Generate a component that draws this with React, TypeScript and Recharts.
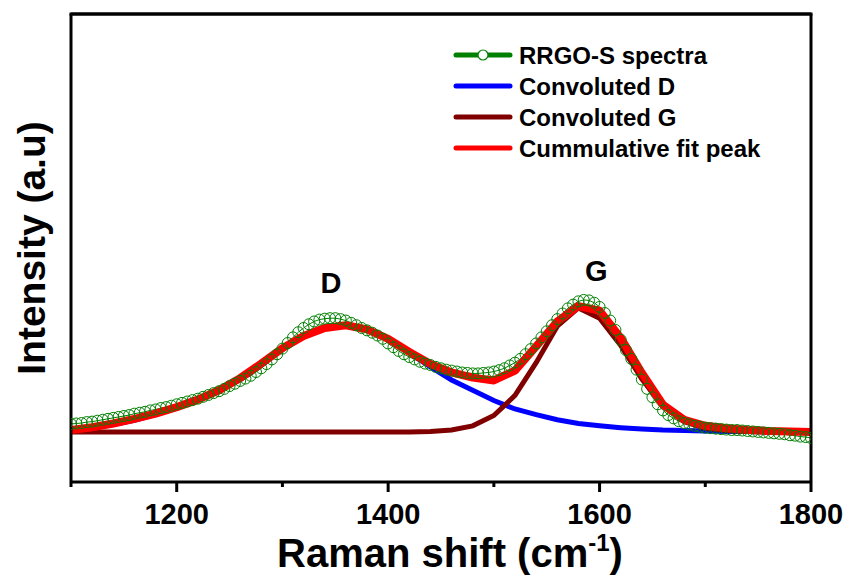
import { LineChart, Line, XAxis, YAxis, ReferenceLine, ReferenceDot } from "recharts";

// measured spectrum, every 5 cm-1
const spectraShift = [
  1100, 1105, 1110, 1115, 1120, 1125, 1130, 1135, 1140, 1145, 1150, 1155, 1160, 1165, 1170, 1175, 1180, 1185, 1190, 1195,
  1200, 1205, 1210, 1215, 1220, 1225, 1230, 1235, 1240, 1245, 1250, 1255, 1260, 1265, 1270, 1275, 1280, 1285, 1290, 1295,
  1300, 1305, 1310, 1315, 1320, 1325, 1330, 1335, 1340, 1345, 1350, 1355, 1360, 1365, 1370, 1375, 1380, 1385, 1390, 1395,
  1400, 1405, 1410, 1415, 1420, 1425, 1430, 1435, 1440, 1445, 1450, 1455, 1460, 1465, 1470, 1475, 1480, 1485, 1490, 1495,
  1500, 1505, 1510, 1515, 1520, 1525, 1530, 1535, 1540, 1545, 1550, 1555, 1560, 1565, 1570, 1575, 1580, 1585, 1590, 1595,
  1600, 1605, 1610, 1615, 1620, 1625, 1630, 1635, 1640, 1645, 1650, 1655, 1660, 1665, 1670, 1675, 1680, 1685, 1690, 1695,
  1700, 1705, 1710, 1715, 1720, 1725, 1730, 1735, 1740, 1745, 1750, 1755, 1760, 1765, 1770, 1775, 1780, 1785, 1790, 1795,
  1800,
];
const spectraIntensity = [
  12.4, 12.5, 12.6, 12.8, 12.9, 13.1, 13.3, 13.5, 13.7, 13.9, 14.1, 14.3, 14.6, 14.8, 15.0, 15.3, 15.5, 15.8, 16.0, 16.3,
  16.6, 16.9, 17.2, 17.5, 17.8, 18.2, 18.6, 19.0, 19.4, 19.9, 20.5, 21.0, 21.6, 22.1, 22.7, 23.5, 24.3, 25.2, 26.2, 27.3,
  28.5, 29.7, 30.9, 32.0, 32.9, 33.7, 34.3, 34.7, 34.9, 35.0, 35.0, 34.8, 34.5, 34.0, 33.5, 32.9, 32.4, 31.9, 31.3, 30.6,
  29.6, 28.8, 28.0, 27.3, 26.7, 26.2, 25.7, 25.3, 25.0, 24.6, 24.3, 24.0, 23.8, 23.6, 23.4, 23.3, 23.2, 23.2, 23.3, 23.4,
  23.6, 23.9, 24.3, 24.9, 25.5, 26.3, 27.3, 28.4, 29.6, 30.9, 32.2, 33.5, 34.8, 36.0, 37.1, 37.9, 38.6, 38.9, 38.8, 38.3,
  37.4, 36.1, 34.5, 32.5, 30.4, 28.2, 26.3, 24.0, 21.9, 19.9, 18.1, 16.6, 15.3, 14.3, 13.6, 13.0, 12.6, 12.3, 12.0, 11.8,
  11.6, 11.5, 11.4, 11.3, 11.2, 11.1, 11.1, 11.0, 10.9, 10.8, 10.7, 10.6, 10.5, 10.4, 10.3, 10.2, 10.0, 9.9, 9.7, 9.6,
  9.4,
];

// fitted peaks, every 20 cm-1
const fitShift = [
  1100, 1120, 1140, 1160, 1180, 1200, 1220, 1240, 1260, 1280, 1300, 1320, 1340, 1360, 1380, 1400, 1420, 1440,
  1460, 1480, 1500, 1520, 1540, 1560, 1580, 1600, 1620, 1640, 1660, 1680, 1700, 1720, 1740, 1760, 1780, 1800,
];
const peakD = [
  11.1, 11.6, 12.3, 13.2, 14.4, 15.8, 17.5, 19.4, 21.9, 25.0, 28.3, 31.0, 32.9, 33.5, 32.6, 30.5, 27.6, 24.6,
  21.8, 19.6, 17.4, 15.6, 14.4, 13.3, 12.5, 12.0, 11.6, 11.3, 11.1, 11.0, 10.9, 10.8, 10.8, 10.7, 10.7, 10.7,
];
const peakG = [
  10.7, 10.7, 10.7, 10.7, 10.7, 10.7, 10.7, 10.7, 10.7, 10.7, 10.7, 10.7, 10.7, 10.7, 10.7, 10.7, 10.7, 10.8,
  11.1, 12.0, 14.2, 18.5, 25.5, 33.3, 37.2, 35.0, 29.2, 22.0, 16.2, 12.9, 11.5, 11.0, 10.8, 10.7, 10.7, 10.7,
];
const peakFit = [
  11.1, 11.7, 12.5, 13.5, 14.6, 16.0, 17.6, 19.6, 22.2, 25.3, 28.6, 31.2, 32.9, 33.5, 32.6, 30.6, 27.8, 25.2,
  23.4, 22.3, 21.7, 23.8, 29.0, 34.3, 37.6, 36.6, 30.8, 23.3, 16.5, 13.3, 12.0, 11.5, 11.1, 10.9, 10.8, 10.7,
];

const xTicks = [1100, 1200, 1300, 1400, 1500, 1600, 1700, 1800];

const seriesNames = ["RRGO-S spectra", "Convoluted D", "Convoluted G", "Cummulative fit peak"];
const seriesColors = ["#008000", "#0000ff", "#800000", "#ff0000"];

const spectraData = spectraShift.map((x, i) => ({ x, y: spectraIntensity[i] }));
const dData = fitShift.map((x, i) => ({ x, y: peakD[i] }));
const gData = fitShift.map((x, i) => ({ x, y: peakG[i] }));
const fitData = fitShift.map((x, i) => ({ x, y: peakFit[i] }));

const FONT = "'Liberation Sans', Arial, sans-serif";

function XTick({ x, y, payload }: any) {
  const major = payload.value % 200 === 0;
  return (
    <g>
      <line x1={x} x2={x} y1={y} y2={y + (major ? 10 : 5)} stroke="#000" strokeWidth={3} />
      {major && (
        <text x={x} y={y + 42} textAnchor="middle" fontFamily={FONT} fontWeight="bold" fontSize={29} fill="#000">
          {payload.value}
        </text>
      )}
    </g>
  );
}

function XTitle({ viewBox }: any) {
  const cx = viewBox.x + viewBox.width / 2 + 9;
  return (
    <text x={cx} y={viewBox.y + 85} textAnchor="middle" fontFamily={FONT} fontWeight="bold" fontSize={40} fill="#000">
      Raman shift (cm
      <tspan dy={-16} fontSize={24}>-1</tspan>
      <tspan dy={16}>)</tspan>
    </text>
  );
}

function YTitle({ viewBox }: any) {
  const cy = viewBox.y + viewBox.height / 2;
  return (
    <text
      x={45}
      y={cy}
      transform={`rotate(-90 45 ${cy})`}
      textAnchor="middle"
      fontFamily={FONT}
      fontWeight="bold"
      fontSize={39}
      fill="#000"
    >
      Intensity (a.u)
    </text>
  );
}

function PeakLabel({ viewBox, value }: any) {
  const cx = viewBox.x + viewBox.width / 2;
  const cy = viewBox.y + viewBox.height / 2;
  return (
    <text x={cx} y={cy} textAnchor="middle" fontFamily={FONT} fontWeight="bold" fontSize={29} fill="#000">
      {value}
    </text>
  );
}

// legend and top frame edge, drawn over the chart
function Overlay() {
  return (
    <svg width={851} height={180} style={{ position: "absolute", left: 0, top: 0, pointerEvents: "none" }}>
      <line x1={69.5} x2={812.5} y1={14} y2={14} stroke="#000" strokeWidth={3} />
      {seriesNames.map((name, i) => {
        const cy = 55 + i * 31;
        return (
          <g key={name}>
            <line x1={456} x2={510} y1={cy} y2={cy} stroke={seriesColors[i]} strokeWidth={5} strokeLinecap="round" />
            {i === 0 && <circle cx={483} cy={cy} r={5} fill="#fff" stroke={seriesColors[0]} strokeWidth={1.2} />}
            <text x={519} y={cy + 8.5} fontFamily={FONT} fontWeight="bold" fontSize={24} fill="#000">
              {name}
            </text>
          </g>
        );
      })}
    </svg>
  );
}

export default function App() {
  return (
    <div style={{ position: "absolute", left: 0, top: 0, width: 851, height: 577, background: "#fff" }}>
      <LineChart width={851} height={577} margin={{ top: 14, right: 40, bottom: 0, left: 0 }}>
        <XAxis
          type="number"
          dataKey="x"
          domain={[1100, 1800]}
          ticks={xTicks}
          allowDataOverflow
          height={95}
          tickSize={0}
          tickMargin={0}
          tickLine={false}
          tick={<XTick />}
          axisLine={{ stroke: "#000", strokeWidth: 3 }}
          label={{ content: <XTitle /> }}
        />
        <YAxis
          type="number"
          domain={[0, 100]}
          width={71}
          tick={false}
          tickLine={false}
          axisLine={{ stroke: "#000", strokeWidth: 3 }}
          allowDataOverflow
          label={{ content: <YTitle /> }}
        />
        <Line
          data={spectraData}
          dataKey="y"
          name={seriesNames[0]}
          type="linear"
          stroke={seriesColors[0]}
          strokeWidth={1}
          dot={{ r: 5.5, stroke: seriesColors[0], strokeWidth: 1, fill: "none" }}
          isAnimationActive={false}
        />
        <Line data={dData} dataKey="y" name={seriesNames[1]} type="linear" stroke={seriesColors[1]} strokeWidth={5} dot={false} isAnimationActive={false} />
        <Line data={gData} dataKey="y" name={seriesNames[2]} type="linear" stroke={seriesColors[2]} strokeWidth={5} dot={false} isAnimationActive={false} />
        <Line data={fitData} dataKey="y" name={seriesNames[3]} type="linear" stroke={seriesColors[3]} strokeWidth={8} strokeLinejoin="round" dot={false} isAnimationActive={false} />
        <ReferenceDot x={1346} y={40.4} r={1} fill="none" stroke="none" label={<PeakLabel value="D" />} />
        <ReferenceDot x={1597} y={42.9} r={1} fill="none" stroke="none" label={<PeakLabel value="G" />} />
        <ReferenceLine y={100} stroke="#000" strokeWidth={3} ifOverflow="visible" />
        <ReferenceLine x={1800} stroke="#000" strokeWidth={3} ifOverflow="visible" />
      </LineChart>
      <Overlay />
    </div>
  );
}
